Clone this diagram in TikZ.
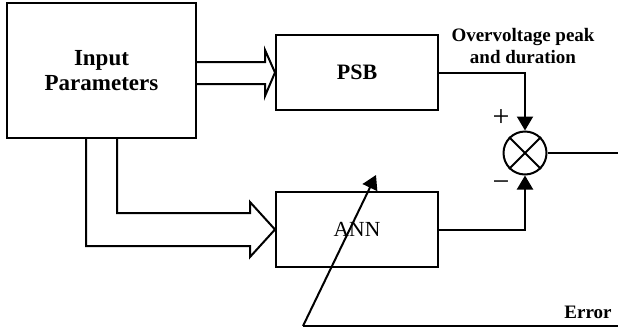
\documentclass[tikz,border=0pt]{standalone}
\usepackage{fontspec}
\setmainfont{Liberation Serif}
\usetikzlibrary{arrows.meta,shapes.geometric,calc}
\begin{document}
\begin{tikzpicture}[x=1pt,y=-1pt,line width=2pt,
  blk/.style={draw,rectangle,inner sep=0pt},
  tri/.style={-{Triangle[length=14pt,width=16pt]}},
  lbl/.style={font=\bfseries\fontsize{19}{22}\selectfont,align=center,inner sep=0pt}]
\useasboundingbox (0,0) rectangle (618,330);
\node[blk,minimum width=189pt,minimum height=135pt,align=center,
  font=\bfseries\fontsize{23}{25}\selectfont] (in) at (101.5,70.5) {Input\\Parameters};
\node[blk,minimum width=162pt,minimum height=75pt,font=\bfseries\fontsize{22}{26}\selectfont] (psb) at (357,72.5) {PSB};
\node[blk,minimum width=162pt,minimum height=75pt,font=\fontsize{21.5}{26}\selectfont] (ann) at (357,229.5) {ANN};
\node[draw,circle,minimum size=43pt,inner sep=0pt] (sum) at (525,153) {};
\draw (sum.north east) -- (sum.south west) (sum.north west) -- (sum.south east);
% hollow arrows
\draw[line join=miter] (in.east |- 0,62) -- (265,62) -- (265,50) -- (psb.west) -- (265,96) -- (265,84) -- (in.east |- 0,84);
\draw[line join=miter] (in.south -| 117,0) -- (117,213) -- (250,213) -- (250,202) -- (ann.west) -- (250,257) -- (250,246) -- (86,246) -- (in.south -| 86,0);
% outputs
\draw[tri] (psb.east) -| (sum.north);
\draw[tri] (ann.east) -| (sum.south);
\coordinate (out) at (618,153);
\draw (sum.east) -- (out);
% error
\coordinate (e1) at (303,326);
\coordinate (e2) at (618,326);
\coordinate (e3) at (376,175);
\draw (e1) -- (e2);
\draw[tri,line join=miter] (e1) -- (e3);
% labels
\node[font=\fontsize{30}{32}\selectfont,inner sep=0pt] (plus) at (501,118) {+};
\node[font=\fontsize{30}{32}\selectfont,inner sep=0pt] (minus) at (501,186) {−};
\node[lbl] (ovl) at (523,46) {Overvoltage peak\\and duration};
\node[lbl,font=\bfseries\fontsize{19}{20}\selectfont] (err) at (588,312) {Error};
\end{tikzpicture}
\end{document}
